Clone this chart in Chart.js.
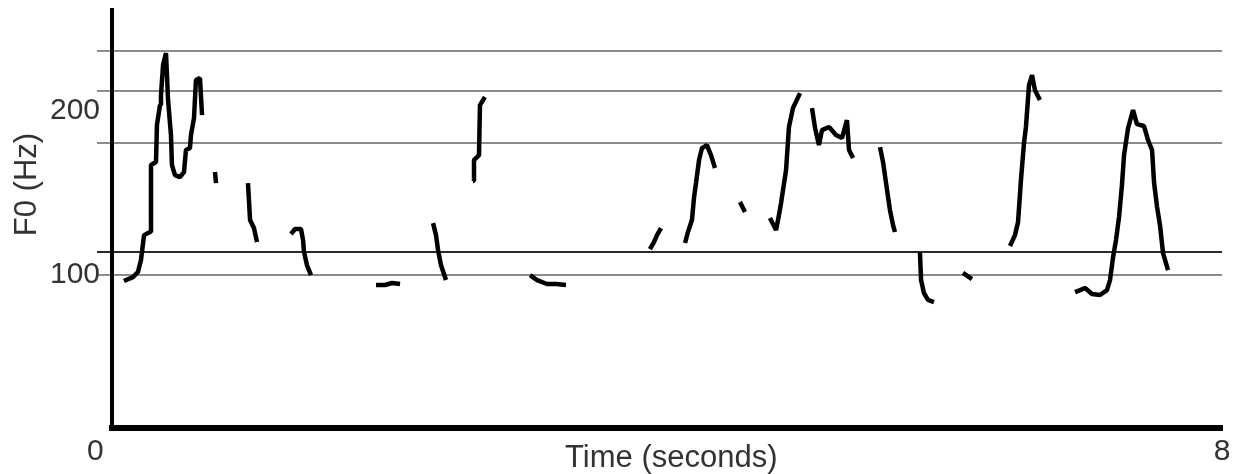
<!DOCTYPE html>
<html>
<head>
<meta charset="utf-8">
<script src="https://cdn.jsdelivr.net/npm/chart.js@4/dist/chart.umd.min.js"></script>
<style>
  html, body { margin: 0; padding: 0; background: #fff; }
  canvas { display: block; }
</style>
</head>
<body>
<canvas id="f0Chart" width="1238" height="474"></canvas>
<script>
// F0 pitch track; null = unvoiced gap
const timeSec = [
  0.086, 0.151, 0.187, 0.209, 0.231, 0.274, 0.281, 0.317, 0.324, 0.346, 0.353, 0.368, 0.389,
  0.404, 0.425, 0.432, 0.454, 0.490, 0.519, 0.533, 0.562, 0.569, 0.591, 0.605, 0.634, 0.649, 0.70,
  0.742, 0.750, 0.86,
  0.980, 0.987, 0.995, 1.023, 1.045, 1.2,
  1.290, 1.319, 1.362, 1.377, 1.384, 1.405, 1.434, 1.6,
  1.903, 1.968, 2.018, 2.076, 2.2,
  2.314, 2.335, 2.350, 2.371, 2.407, 2.5,
  2.602, 2.609, 2.645, 2.652, 2.688, 2.8,
  3.013, 3.063, 3.135, 3.200, 3.272, 3.5,
  3.877, 3.906, 3.928, 3.957, 4.0,
  4.130, 4.151, 4.180, 4.195, 4.209, 4.231, 4.252, 4.288, 4.317, 4.346, 4.4,
  4.526, 4.562, 4.6,
  4.742, 4.786, 4.807, 4.822, 4.858, 4.879, 4.908, 4.959, 5.0,
  5.045, 5.067, 5.095, 5.117, 5.168, 5.218, 5.261, 5.297, 5.312, 5.341, 5.4,
  5.535, 5.557, 5.586, 5.607, 5.629, 5.643, 5.7,
  5.823, 5.831, 5.852, 5.881, 5.924, 6.0,
  6.133, 6.198, 6.3,
  6.472, 6.508, 6.530, 6.551, 6.573, 6.587, 6.609, 6.631, 6.652, 6.688, 6.8,
  6.941, 6.977, 7.013, 7.063, 7.121, 7.171, 7.193, 7.214, 7.236, 7.258, 7.279, 7.294, 7.323,
  7.359, 7.387, 7.438, 7.467, 7.496, 7.510, 7.532, 7.553, 7.575, 7.611
];
const f0Hz = [
  96.3, 98.7, 101.8, 109.1, 124.2, 126.1, 166.8, 168.6, 191.1, 203.2, 209.3, 227.5, 234.8,
  206.3, 185.0, 166.8, 160.7, 159.5, 162.5, 175.9, 177.1, 185.0, 195.3, 218.4, 219.6, 197.1, null,
  162.5, 155.8, null,
  155.8, 145.5, 133.4, 128.5, 120.0, null,
  124.9, 127.9, 127.9, 121.2, 113.9, 106.0, 99.9, null,
  93.9, 93.9, 95.1, 94.5, null,
  131.5, 124.2, 115.1, 106.0, 96.9, null,
  157.1, 169.8, 172.8, 203.2, 208.1, null,
  99.9, 96.9, 94.5, 94.5, 93.9, null,
  115.7, 120.0, 124.2, 128.5, null,
  119.4, 126.1, 133.4, 147.3, 155.8, 169.8, 177.1, 178.9, 172.8, 165.0, null,
  144.3, 138.2, null,
  134.6, 127.3, 136.4, 143.7, 163.7, 189.9, 201.4, 210.5, null,
  201.4, 189.3, 178.9, 188.0, 189.9, 185.0, 183.2, 194.1, 175.9, 171.0, null,
  177.7, 168.6, 151.6, 139.4, 130.3, 126.1, null,
  113.9, 96.9, 89.0, 84.8, 83.5, null,
  101.2, 97.5, null,
  117.6, 124.2, 132.1, 157.7, 180.1, 189.9, 215.4, 221.4, 212.3, 206.3, null,
  89.6, 90.8, 92.1, 88.4, 87.8, 90.8, 96.9, 110.3, 121.2, 135.2, 154.6, 172.8, 189.3,
  200.2, 191.7, 190.5, 182.0, 175.9, 156.4, 141.3, 130.3, 113.3, 103.0
];

// horizontal reference lines and labelled ticks
const refLinesHz = [100, 114, 180, 212, 236];
const darkRefHz = 114;
const yTickLabels = [100, 200];
const timeTicks = [0, 8];

const textColor = '#333';
const tickFont = { family: 'Liberation Sans, Arial, sans-serif', size: 30 };
const titleFont = { family: 'Liberation Sans, Arial, sans-serif', size: 31, lineHeight: 1.2 };

const points = timeSec.map((t, i) => ({ x: t, y: f0Hz[i] }));

new Chart(document.getElementById('f0Chart'), {
  type: 'line',
  data: {
    datasets: [{
      data: points,
      borderColor: '#000',
      borderWidth: 4.5,
      borderJoinStyle: 'bevel',
      pointRadius: 0,
      tension: 0,
      spanGaps: false
    }]
  },
  options: {
    responsive: false,
    animation: false,
    layout: { padding: { top: 10, right: 16, left: 0, bottom: 0 } },
    plugins: { legend: { display: false }, tooltip: { enabled: false } },
    scales: {
      x: {
        type: 'linear',
        min: 0,
        max: 8,
        afterBuildTicks: scale => { scale.ticks = timeTicks.map(v => ({ value: v })); },
        afterFit: scale => { scale.height = 46; },
        grid: { display: false, drawTicks: false },
        border: { display: true, color: '#000', width: 6 },
        ticks: {
          color: textColor,
          font: tickFont,
          padding: 6,
          maxRotation: 0,
          autoSkip: false,
          // trailing spaces push the "0" left of the axis like the original
          callback: v => (v === 0 ? '0    ' : String(v))
        },
        title: {
          display: true,
          text: ' Time (seconds)',
          color: textColor,
          font: { ...titleFont, lineHeight: 1 },
          padding: { top: 0, bottom: 0 }
        }
      },
      y: {
        type: 'linear',
        min: 7,
        max: 261,
        afterBuildTicks: scale => {
          const vals = [...new Set([...refLinesHz, ...yTickLabels])].sort((a, b) => a - b);
          scale.ticks = vals.map(v => ({ value: v }));
        },
        afterFit: scale => {
          scale.width = 112;
          scale.paddingTop = 0;
          scale.paddingBottom = 0;
        },
        grid: {
          drawTicks: true,
          tickLength: 15,
          lineWidth: 2,
          color: ctx => {
            const v = ctx.tick ? ctx.tick.value : null;
            if (!refLinesHz.includes(v)) return 'rgba(0,0,0,0)';
            return v === darkRefHz ? '#2a2a2a' : '#8c8c8c';
          }
        },
        border: { display: true, color: '#000', width: 4 },
        ticks: {
          color: textColor,
          font: tickFont,
          padding: -3,
          autoSkip: false,
          callback: v => (yTickLabels.includes(v) ? String(v) : '')
        },
        title: {
          display: true,
          // leading spaces lift the title above the axis middle
          text: '        F0 (Hz)',
          color: textColor,
          font: titleFont,
          padding: { top: 9, bottom: 0 }
        }
      }
    }
  }
});
</script>
</body>
</html>
